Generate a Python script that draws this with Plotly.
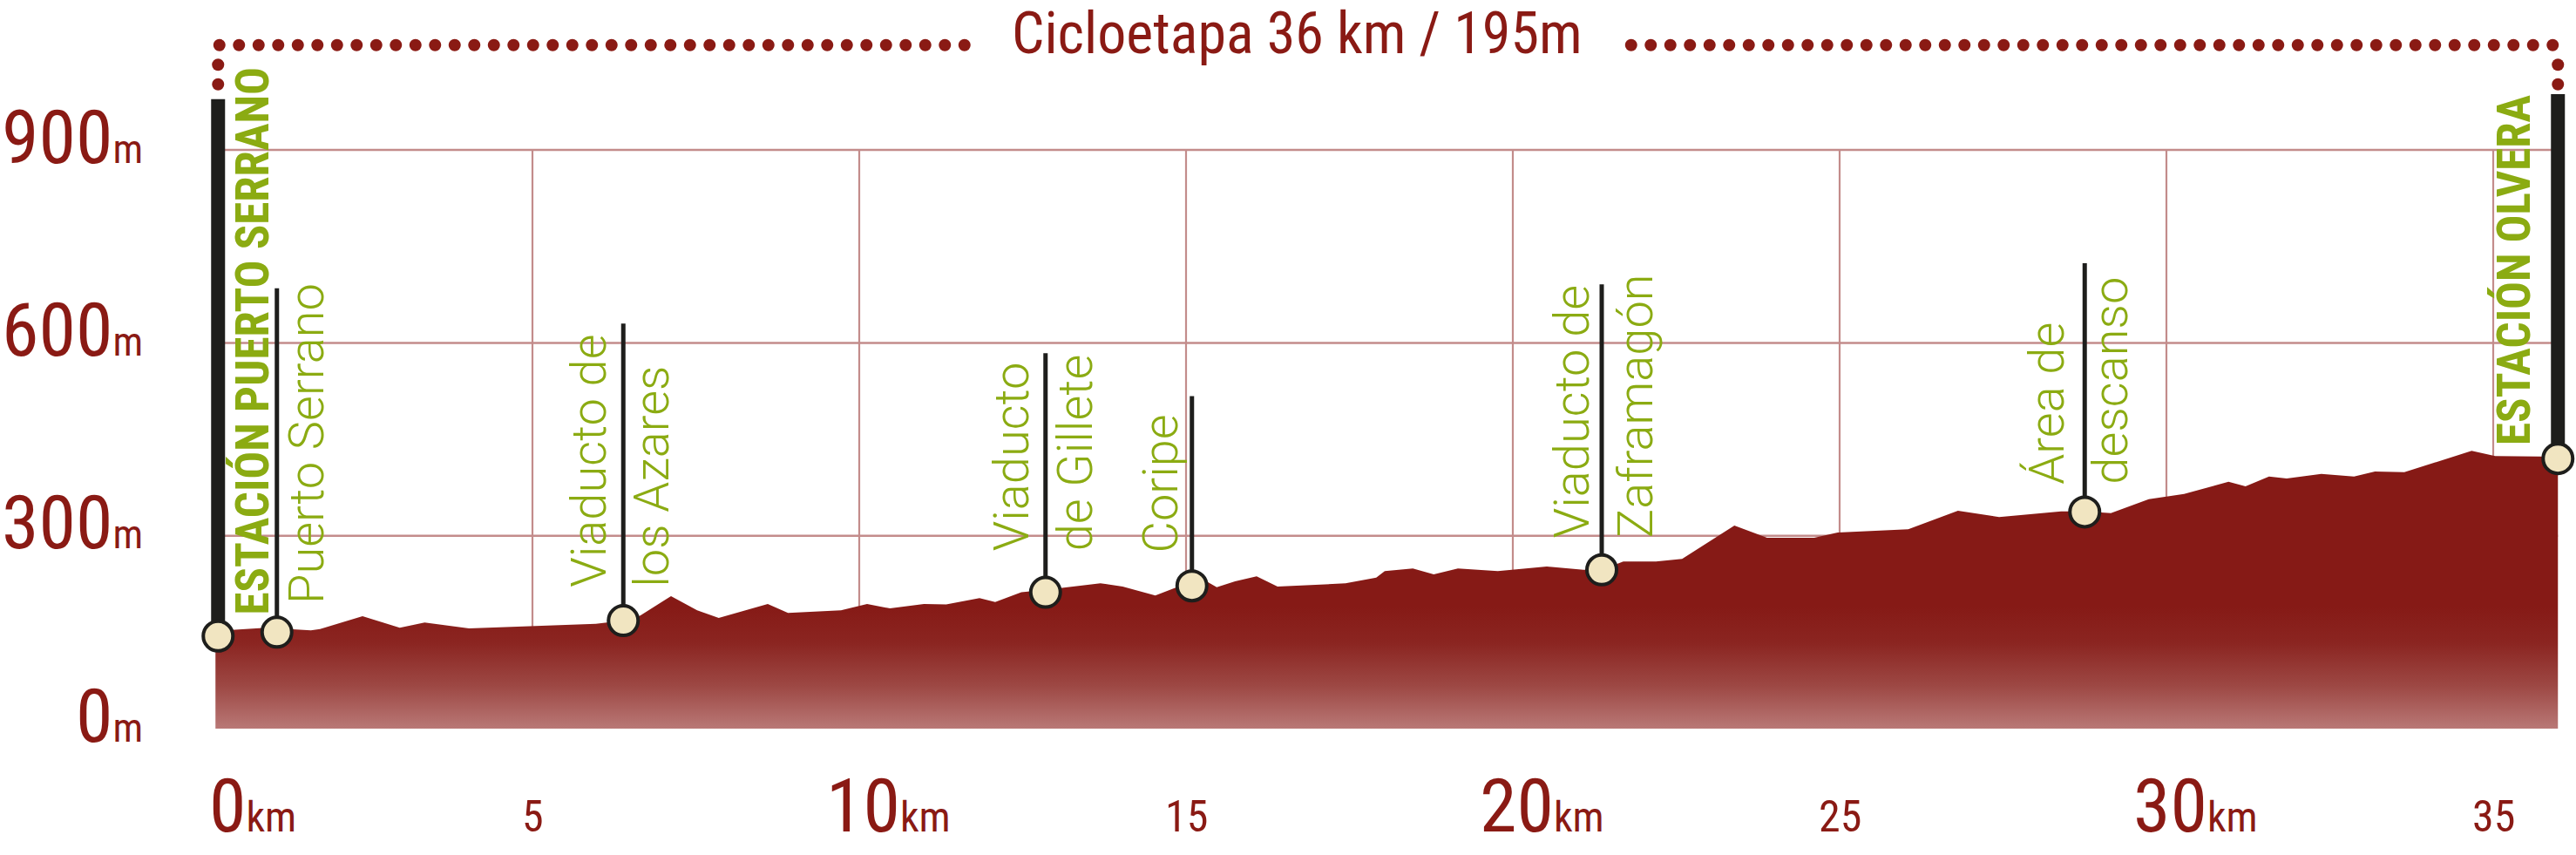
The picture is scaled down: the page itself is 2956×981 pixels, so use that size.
import numpy as np
import plotly.graph_objects as go

# ---------------- data ----------------
profile_km = [0.15, 0.93, 1.61, 1.75, 2.40, 2.97, 3.35, 4.03, 5.97, 6.39, 6.65, 7.12, 7.52, 7.85,
              8.60, 8.73, 8.91, 9.72, 10.12, 10.47, 10.99, 11.33, 11.84, 12.08, 12.48, 12.85,
              13.69, 14.03, 14.53, 14.91, 15.09, 15.33, 15.47, 15.75, 16.08, 16.40, 17.44, 17.91,
              18.04, 18.47, 18.79, 19.16, 19.77, 20.52, 21.08, 21.36, 21.69, 22.19, 22.59, 23.39,
              23.89, 24.61, 24.97, 26.05, 26.81, 27.44, 28.39, 28.75, 29.15, 29.73, 30.27, 30.95,
              31.21, 31.57, 31.84, 32.37, 32.87, 33.19, 33.64, 34.67, 34.85, 35.03, 35.99]
profile_elev_m = [152, 157, 153, 155, 175, 157, 165, 156, 163, 168, 176, 206, 184, 172,
                  194, 188, 180, 184, 194, 187, 194, 193, 203, 197, 212, 216,
                  226, 221, 207, 222, 222, 228, 220, 229, 237, 221, 226, 235,
                  245, 249, 240, 249, 245, 252, 247, 247, 260, 260, 264, 316,
                  297, 297, 305, 310, 339, 329, 338, 338, 335, 357, 365, 384,
                  377, 392, 389, 396, 392, 400, 399, 432, 428, 424, 423]

waypoint_names = ["ESTACIÓN PUERTO SERRANO", "Puerto Serrano", "Viaducto de<br>los Azares",
                  "Viaducto<br>de Gillete", "Coripe", "Viaducto de<br>Zaframagón",
                  "Área de<br>descanso", "ESTACIÓN OLVERA"]
waypoint_km = [0.19, 1.09, 6.39, 12.85, 15.09, 21.36, 28.75, 35.99]
waypoint_elev_m = [144, 150, 168, 212, 222, 247, 337, 420]
waypoint_is_station = [True, False, False, False, False, False, False, True]

y_tick_vals = [0, 300, 600, 900]
y_tick_unit = "m"
x_tick_vals = [0, 5, 10, 15, 20, 25, 30, 35]
x_major_ticks = [0, 10, 20, 30]
x_tick_unit = "km"
title_text = "Cicloetapa 36 km / 195m"

# ---------------- styles / layout constants ----------------
W, H = 2956, 981
X0_PX, PX_PER_KM = 236, 75.0
Y0_PX, PX_PER_M = 836, 0.7377
x_range = [-X0_PX / PX_PER_KM, (W - X0_PX) / PX_PER_KM]
y_range = [(Y0_PX - H) / PX_PER_M, Y0_PX / PX_PER_M]

RED = "#8a1a14"
GREEN = "#8bab12"
GRID = "#c38c8b"
DARK = "#1e1e1c"
CREAM = "#f1e5c1"
FONT_COND = "Roboto Condensed"
FONT_LIGHT = "Roboto"

leader_top_m = [979, 685, 630, 584, 517, 691, 724, 987]
label_dx = [40, 35, -3, -2, -36, 2, -7, -51]
label_dy = [22, 30, 36, 45, 36, 34, 30, 13]

bracket_y = 1063
title_x = 16.7
title_gap = 4.85
dot_step_km = 0.3
dot_step_m = 30.5

fig = go.Figure()

# grid lines (below everything)
for v in y_tick_vals[1:]:
    fig.add_shape(type="line", x0=waypoint_km[0], x1=waypoint_km[-1], y0=v, y1=v,
                  line=dict(color=GRID, width=2.5), layer="below")
for v in x_tick_vals[1:]:
    fig.add_shape(type="line", x0=v, x1=v, y0=0, y1=max(y_tick_vals),
                  line=dict(color=GRID, width=2.2), layer="below")

# elevation profile with vertical gradient
fig.add_trace(go.Scatter(
    x=profile_km, y=profile_elev_m, mode="lines", fill="tozeroy",
    line=dict(width=0, color="#861a16"),
    fillgradient=dict(type="vertical", start=0, stop=190,
                      colorscale=[[0, "#b97876"], [0.35, "#9d4844"], [0.7, "#8b2521"], [1, "#861a16"]]),
    hoverinfo="skip", showlegend=False))

# leader lines
thin_x, thin_y, thick_x, thick_y = [], [], [], []
for k, e, top, st in zip(waypoint_km, waypoint_elev_m, leader_top_m, waypoint_is_station):
    if st:
        thick_x += [k, k, None]; thick_y += [e, top, None]
    else:
        thin_x += [k, k, None]; thin_y += [e, top, None]
fig.add_trace(go.Scatter(x=thin_x, y=thin_y, mode="lines", line=dict(color=DARK, width=5),
                         hoverinfo="skip", showlegend=False))
fig.add_trace(go.Scatter(x=thick_x, y=thick_y, mode="lines", line=dict(color=DARK, width=16),
                         hoverinfo="skip", showlegend=False))

# waypoint markers
fig.add_trace(go.Scatter(x=waypoint_km, y=waypoint_elev_m, mode="markers",
                         marker=dict(size=34, color=CREAM, line=dict(color=DARK, width=4)),
                         hoverinfo="skip", showlegend=False))

# dotted bracket around the title
hx = np.arange(waypoint_km[0] + 0.02, waypoint_km[-1] - 0.05, dot_step_km)
hx = hx[np.abs(hx - title_x) > title_gap]
bx, by = list(hx), [bracket_y] * len(hx)
for k, top in ((waypoint_km[0], leader_top_m[0]), (waypoint_km[-1], leader_top_m[-1])):
    yy = bracket_y - dot_step_m
    while yy > top + 5:
        bx.append(k); by.append(yy)
        yy -= dot_step_m
fig.add_trace(go.Scatter(x=bx, y=by, mode="markers",
                         marker=dict(size=14, color=RED, line=dict(width=0)),
                         hoverinfo="skip", showlegend=False))

# title
fig.add_annotation(x=title_x, y=bracket_y, yshift=13, text=title_text, showarrow=False,
                   xanchor="center", yanchor="middle",
                   font=dict(family=FONT_COND, size=66, color=RED))

# waypoint labels
for name, k, e, st, dx, dy in zip(waypoint_names, waypoint_km, waypoint_elev_m,
                                  waypoint_is_station, label_dx, label_dy):
    font = (dict(family=FONT_COND, size=53, color=GREEN, weight="bold") if st
            else dict(family=FONT_LIGHT, size=56, color=GREEN, weight=300))
    fig.add_annotation(x=k, y=e, xshift=dx, yshift=dy, text=name, textangle=-90,
                       showarrow=False, xanchor="center", yanchor="bottom", align="left",
                       font=font)

# y tick labels
for v in y_tick_vals:
    fig.add_annotation(xref="paper", x=166 / W, y=v, yshift=15, xanchor="right", yanchor="middle",
                       text=f"{v}<span style='font-size:46px'>{y_tick_unit}</span>",
                       showarrow=False, font=dict(family=FONT_COND, size=86, color=RED))

# x tick labels
for v in x_tick_vals:
    if v in x_major_ticks:
        size = 86
        txt = f"{v}<span style='font-size:48px'>{x_tick_unit}</span>"
        if v == 0:
            xa, xs = "left", 2
        else:
            xa, xs = "left", -len(str(v)) * 0.5 * size / 2 + 3
    else:
        size = 50
        txt = f"{v}"
        xa, xs = "center", 0
    fig.add_annotation(x=v, y=(Y0_PX - 956) / PX_PER_M, yshift=-0.244 * size, xanchor=xa, xshift=xs,
                       yanchor="bottom", text=txt, showarrow=False,
                       font=dict(family=FONT_COND, size=size, color=RED))

fig.update_layout(
    width=W, height=H, margin=dict(l=0, r=0, t=0, b=0, pad=0),
    paper_bgcolor="white", plot_bgcolor="white", hovermode=False,
    xaxis=dict(range=x_range, visible=False, fixedrange=True),
    yaxis=dict(range=y_range, visible=False, fixedrange=True),
    showlegend=False,
)
fig.write_html("out.html", config={"displayModeBar": False},
               post_script="document.body.style.margin='0px';")
